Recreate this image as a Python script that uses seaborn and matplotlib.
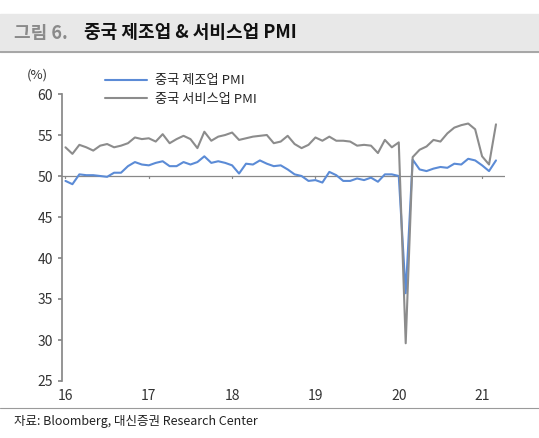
import matplotlib
matplotlib.use("Agg")
import matplotlib.pyplot as plt
import seaborn as sns
import pandas as pd
import numpy as np

sns.set_theme(style="white")
plt.rcParams['font.family'] = ['Noto Sans CJK KR', 'DejaVu Sans']

mfg = [49.4, 49.0, 50.2, 50.1, 50.1, 50.0, 49.9, 50.4, 50.4, 51.2, 51.7, 51.4,
       51.3, 51.6, 51.8, 51.2, 51.2, 51.7, 51.4, 51.7, 52.4, 51.6, 51.8, 51.6,
       51.3, 50.3, 51.5, 51.4, 51.9, 51.5, 51.2, 51.3, 50.8, 50.2, 50.0, 49.4,
       49.5, 49.2, 50.5, 50.1, 49.4, 49.4, 49.7, 49.5, 49.8, 49.3, 50.2, 50.2,
       50.0, 35.7, 52.0, 50.8, 50.6, 50.9, 51.1, 51.0, 51.5, 51.4, 52.1, 51.9,
       51.3, 50.6, 51.9]
svc = [53.5, 52.7, 53.8, 53.5, 53.1, 53.7, 53.9, 53.5, 53.7, 54.0, 54.7, 54.5,
       54.6, 54.2, 55.1, 54.0, 54.5, 54.9, 54.5, 53.4, 55.4, 54.3, 54.8, 55.0,
       55.3, 54.4, 54.6, 54.8, 54.9, 55.0, 54.0, 54.2, 54.9, 53.9, 53.4, 53.8,
       54.7, 54.3, 54.8, 54.3, 54.3, 54.2, 53.7, 53.8, 53.7, 52.8, 54.4, 53.5,
       54.1, 29.6, 52.3, 53.2, 53.6, 54.4, 54.2, 55.2, 55.9, 56.2, 56.4, 55.7,
       52.4, 51.4, 56.3]
year_labels = ['16', '17', '18', '19', '20', '21']
s1, s2 = '중국 제조업 PMI', '중국 서비스업 PMI'

df = pd.DataFrame({'m': np.arange(len(mfg)), s1: mfg, s2: svc})
long = df.melt('m', var_name='series', value_name='v')

fig = plt.figure(figsize=(5.39, 4.38), dpi=100)
ax = fig.add_axes([62/539, 1-381/438, 443/539, 287/438])
sns.lineplot(data=long, x='m', y='v', hue='series',
             palette={s1: '#5B8BD6', s2: '#8C8C8C'}, linewidth=1.5, ax=ax)
ax.axhline(50, color='#888888', lw=0.9, zorder=0)
for k in range(6):
    ax.plot([12*k, 12*k], [49.7, 50], color='#888888', lw=0.9, zorder=0)
ax.set_xlim(-0.5, 63.3)
ax.set_ylim(25, 60)
ax.set_yticks(range(25, 61, 5))
ax.set_xticks([12*k for k in range(6)])
ax.set_xticklabels(year_labels)
ax.set_xlabel(''); ax.set_ylabel('')
for s in ['top', 'right', 'bottom']:
    ax.spines[s].set_visible(False)
ax.spines['left'].set_color('#888888')
ax.tick_params(axis='y', length=3, color='#888888', labelsize=10, colors='#333333', left=True)
ax.tick_params(axis='x', length=0, labelsize=10, colors='#333333', pad=6)
ax.legend(loc='upper left', bbox_to_anchor=(0.07, 1.11), frameon=False, fontsize=9.5,
          handlelength=3.2, handletextpad=0.6, labelspacing=0.4)
fig.text(27/539, 1-75/438, '(%)', fontsize=9.5, color='#333333', va='center')

# title bar
fig.patches.append(plt.Rectangle((0, 1-52/438), 1, 52/438 - 14/438, transform=fig.transFigure,
                                 color='#E8E8E8', zorder=0))
fig.add_artist(plt.Line2D([0, 1], [1-52/438, 1-52/438], color='#9A9A9A', lw=1.2))
fig.text(14/539, 1-33/438, '그림 6.', fontsize=13, color='#8A8A8A', va='center', weight='bold')
fig.text(84/539, 1-33/438, '중국 제조업 & 서비스업 PMI', fontsize=13, color='#111111',
         va='center', weight='bold')
fig.add_artist(plt.Line2D([0, 1], [1-408/438, 1-408/438], color='#9A9A9A', lw=0.8))
fig.text(14/539, 1-422/438, '자료: Bloomberg, 대신증권 Research Center', fontsize=9,
         color='#222222', va='center')
fig.savefig('out.png', dpi=100)
